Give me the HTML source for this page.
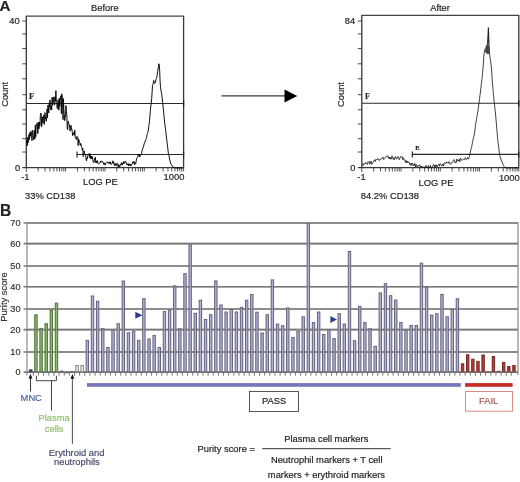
<!DOCTYPE html>
<html><head><meta charset="utf-8"><style>
html,body{margin:0;padding:0;background:#fff;width:520px;height:482px;overflow:hidden;}
svg{display:block;will-change:transform;}
text{font-family:"Liberation Sans",sans-serif;} text.sf{font-family:"Liberation Serif",serif;}
</style></head><body>
<svg fill="#222" width="520" height="482" viewBox="0 0 520 482">
<text x="-0.4" y="10.7" font-size="15.2" font-weight="bold" stroke="#222" stroke-width="0.18">A</text>
<path d="M26.3 167.6 V16.1 M183.6 16.1 V167.6" fill="none" stroke="#383838" stroke-width="1.3"/>
<path d="M25.8 16.1 H184.1" fill="none" stroke="#444" stroke-width="1.3"/>
<path d="M22.3 167.6 H183.6" stroke="#383838" stroke-width="1.3"/>
<path d=" M22.3 21.0 H26.3 M22.3 33.9 H26.3 M22.3 48.6 H26.3 M22.3 63.8 H26.3 M22.3 78.8 H26.3 M22.3 94.7 H26.3 M22.3 109.8 H26.3 M22.3 124.0 H26.3 M22.3 138.7 H26.3 M22.3 152.0 H26.3" stroke="#333" stroke-width="0.9"/>
<path d="M26.3 167.6 V171.9 M38.14 167.6 V171.4 M45.06 167.6 V171.4 M49.98 167.6 V171.4 M53.79 167.6 V171.4 M56.90 167.6 V171.4 M59.53 167.6 V171.4 M61.81 167.6 V171.4 M63.83 167.6 V171.4 M65.62 167.6 V171.4 M77.46 167.6 V171.4 M84.39 167.6 V171.4 M89.30 167.6 V171.4 M93.11 167.6 V171.4 M96.23 167.6 V171.4 M98.86 167.6 V171.4 M101.14 167.6 V171.4 M103.15 167.6 V171.4 M104.95 167.6 V171.4 M116.79 167.6 V171.4 M123.71 167.6 V171.4 M128.63 167.6 V171.4 M132.44 167.6 V171.4 M135.55 167.6 V171.4 M138.18 167.6 V171.4 M140.46 167.6 V171.4 M142.48 167.6 V171.4 M144.28 167.6 V171.4 M156.11 167.6 V171.4 M163.04 167.6 V171.4 M167.95 167.6 V171.4 M171.76 167.6 V171.4 M174.88 167.6 V171.4 M177.51 167.6 V171.4 M179.79 167.6 V171.4 M181.80 167.6 V171.4 M183.60 167.6 V171.4" stroke="#333" stroke-width="0.85"/>
<text x="91.1" y="11.3" font-size="9.35" stroke="#222" stroke-width="0.18">Before</text>
<text x="19.6" y="24.4" font-size="9.35" text-anchor="end" stroke="#222" stroke-width="0.18">40</text>
<text x="20.1" y="171" font-size="9.35" text-anchor="end" stroke="#222" stroke-width="0.18">0</text>
<text x="21.2" y="180.3" font-size="9.35" stroke="#222" stroke-width="0.18">-1</text>
<text x="163.6" y="179.9" font-size="9.35" stroke="#222" stroke-width="0.18">1000</text>
<text x="83" y="185.3" font-size="9.35" stroke="#222" stroke-width="0.18">LOG PE</text>
<text x="25" y="198.6" font-size="9.35" stroke="#222" stroke-width="0.18">33% CD138</text>
<text transform="translate(8.1 94.4) rotate(-90)" font-size="9.35" text-anchor="middle" stroke="#222" stroke-width="0.18">Count</text>
<text x="29" y="99.2" font-size="8.6" font-weight="bold" class="sf" stroke="#222" stroke-width="0.18">F</text>
<path d="M26.3 103.5 H183.6" stroke="#2a2a2a" stroke-width="1.1"/>
<path d="M183.6 100.5 V106.5" stroke="#1a1a1a" stroke-width="1.2"/>
<path d="M77 154.5 H183.6" stroke="#2a2a2a" stroke-width="1.1"/>
<path d="M77 151.5 V157.5 M183.6 151.5 V157.5" stroke="#1a1a1a" stroke-width="1.1"/>
<path d="M26.50 142.83 L26.92 140.33 L27.34 145.63 L27.76 137.32 L28.18 142.59 L28.60 138.41 L29.02 134.46 L29.44 139.44 L29.86 132.60 L30.28 136.21 L30.70 131.69 L31.12 131.34 L31.54 134.59 L31.96 140.52 L32.38 130.04 L32.80 130.54 L33.22 136.91 L33.64 140.09 L34.06 135.24 L34.48 130.57 L34.90 138.95 L35.32 125.15 L35.74 136.71 L36.16 126.63 L36.58 124.25 L37.00 123.32 L37.42 125.02 L37.84 133.64 L38.26 122.00 L38.68 128.75 L39.10 128.86 L39.52 122.08 L39.94 125.57 L40.36 115.35 L40.78 113.17 L41.20 113.60 L41.62 126.71 L42.04 119.62 L42.46 116.89 L42.88 123.20 L43.30 118.43 L43.72 115.02 L44.14 124.45 L44.56 122.38 L44.98 112.60 L45.40 118.94 L45.82 117.20 L46.24 121.27 L46.66 118.08 L47.08 109.09 L47.50 117.70 L47.92 105.22 L48.34 107.73 L48.76 112.98 L49.18 102.89 L49.60 107.10 L50.02 99.85 L50.44 109.55 L50.86 110.07 L51.28 106.00 L51.70 109.93 L52.12 97.27 L52.54 105.48 L52.96 102.77 L53.38 101.59 L53.80 96.89 L54.22 104.18 L54.64 105.22 L55.06 96.75 L55.48 101.16 L55.90 90.64 L56.32 102.51 L56.74 103.09 L57.16 108.70 L57.58 108.15 L58.00 99.84 L58.42 102.16 L58.84 110.19 L59.26 98.06 L59.68 106.54 L60.10 100.75 L60.52 98.34 L60.94 95.74 L61.36 113.71 L61.78 93.87 L62.20 96.53 L62.62 102.14 L63.04 119.64 L63.46 98.63 L63.88 109.74 L64.30 114.55 L64.72 120.61 L65.14 117.40 L65.56 116.96 L65.98 105.49 L66.40 111.78 L66.82 114.40 L67.24 128.21 L67.66 129.73 L68.08 121.17 L68.50 122.68 L68.92 123.87 L69.34 124.66 L69.76 128.22 L70.18 131.08 L70.60 127.03 L71.02 125.32 L71.44 129.21 L71.86 128.95 L72.28 132.23 L72.70 135.61 L73.12 133.92 L73.54 132.55 L73.96 134.20 L74.38 135.14 L74.80 130.22 L75.22 137.64 L75.64 137.75 L76.06 139.14 L76.48 139.51 L76.90 136.44 L77.32 137.37 L77.74 136.89 L78.16 145.50 L78.58 139.08 L79.00 139.95 L79.42 142.19 L79.84 142.55 L80.26 145.42 L80.68 143.50 L81.10 144.41 L81.52 146.94 L81.94 147.60 L82.36 150.25 L82.78 148.27 L83.20 156.54 L83.62 154.96 L84.04 150.79 L84.46 152.50 L84.88 154.18 L85.30 155.32 L85.72 155.30 L86.14 159.79 L86.56 160.90 L86.98 158.09 L87.40 158.63 L87.82 155.48 L88.24 154.63 L88.66 155.00 L89.08 153.60 L89.50 157.51 L89.92 153.64 L90.34 153.87 L90.76 159.02 L91.18 157.68 L91.60 156.04 L92.02 158.92 L92.44 156.74 L92.86 159.93 L93.28 162.50 L93.70 162.65 L94.12 162.23 L94.54 158.83 L94.96 159.03 L95.38 157.28 L95.80 162.69 L96.22 161.17 L96.64 163.07 L97.06 160.42 L97.48 160.70 L97.90 163.65 L98.32 163.99 L98.74 163.61 L99.16 163.42 L99.58 163.37 L100.00 163.09 L100.42 161.11 L100.84 162.42 L101.26 161.71 L101.68 160.95 L102.10 161.06 L102.52 161.80 L102.94 161.86 L103.36 163.74 L103.78 164.54 L104.20 162.81 L104.62 164.71 L105.04 164.89 L105.46 164.86 L105.88 162.75 L106.30 162.37 L106.72 162.42 L107.14 162.33 L107.56 161.88 L107.98 163.13 L108.40 163.42 L108.82 162.81 L109.24 161.75 L109.66 163.14 L110.08 164.08 L110.50 162.07 L110.92 164.07 L111.34 164.41 L111.76 163.76 L112.18 163.35 L112.60 161.86 L113.02 160.79 L113.44 163.65 L113.86 162.41 L114.28 164.87 L114.70 165.74 L115.12 163.71 L115.54 163.77 L115.96 165.80 L116.38 165.27 L116.80 163.20 L117.22 163.38 L117.64 163.81 L118.06 166.81 L118.48 166.94 L118.90 164.60 L119.32 166.75 L119.74 166.82 L120.16 165.68 L120.58 164.01 L121.00 164.76 L121.42 162.91 L121.84 162.38 L122.26 165.16 L122.68 163.84 L123.10 162.89 L123.52 163.67 L123.94 161.43 L124.36 163.29 L124.78 163.35 L125.20 161.25 L125.62 161.55 L126.04 162.36 L126.46 162.91 L126.88 165.08 L127.30 164.34 L127.72 164.64 L128.14 163.59 L128.56 166.06 L128.98 163.78 L129.40 164.12 L129.82 164.86 L130.24 165.78 L130.66 163.96 L131.08 165.81 L131.50 164.36 L131.92 164.30 L132.34 163.99 L132.76 161.77 L133.18 162.82 L133.60 161.58 L134.02 161.30 L134.44 164.71 L134.86 162.52 L135.28 163.90 L135.70 163.97 L136.12 161.66 L136.54 158.43 L136.96 158.12 L137.38 157.42 L137.80 157.32 L138.22 154.26 L138.64 155.43 L139.06 154.45 L139.48 154.80 L139.90 156.91 L140.32 155.38 L140.74 154.72 L141.16 154.40 L141.58 153.73 L142.00 150.71 L142.42 150.11 L142.84 148.27 L143.26 146.90 L143.68 146.03 L144.10 143.90 L144.52 143.08 L144.94 141.56 L145.36 141.48 L145.78 139.81 L146.20 138.89 L146.62 137.75 L147.04 134.73 L147.46 133.55 L147.88 132.23 L148.30 130.07 L148.72 126.50 L149.14 124.46 L149.56 120.63 L149.98 115.10 L150.40 110.52 L150.82 105.90 L151.24 103.07 L151.66 98.43 L152.08 92.73 L152.50 85.23 L152.92 84.65 L153.34 82.63 L153.76 80.44 L154.18 82.66 L154.60 83.38 L155.02 82.27 L155.44 82.47 L155.86 79.81 L156.28 78.66 L156.70 77.92 L157.12 75.44 L157.54 71.69 L157.96 69.96 L158.38 67.22 L158.80 63.73 L159.22 64.53 L159.64 69.73 L160.06 80.45 L160.48 86.65 L160.90 89.84 L161.32 92.26 L161.74 94.57 L162.16 97.92 L162.58 102.20 L163.00 106.03 L163.42 109.75 L163.84 114.61 L164.26 118.61 L164.68 122.83 L165.10 125.92 L165.52 129.50 L165.94 132.83 L166.36 136.95 L166.78 139.91 L167.20 143.20 L167.62 146.80 L168.04 150.64 L168.46 153.97 L168.88 155.37 L169.30 157.08 L169.72 159.53 L170.14 161.06 L170.56 162.95 L170.98 164.17 L171.40 164.68 L171.82 165.67 L172.24 165.84 L172.66 166.08 L173.08 167.13 L173.50 167.41 L173.92 167.74 L174.34 167.45 L174.76 167.86 L175.18 167.72 L175.60 167.95 L176.02 168.00 L176.44 168.00 L176.86 168.00 L177.28 168.00 L177.70 168.00 L178.12 168.00 L178.54 168.00 L178.96 168.00 L179.38 168.00 L179.80 168.00 L180.22 168.00 L180.64 168.00 L181.06 168.00 L181.48 168.00 L181.90 168.00 L182.32 168.00 L182.74 168.00" fill="none" stroke="#000" stroke-width="0.95" stroke-linejoin="round"/>
<path d="M221.5 95.9 H286" stroke="#3a3a3a" stroke-width="1.15"/>
<path d="M284.5 89.6 L297.2 96 L284.5 102.6 Z" fill="#000"/>
<path d="M361.8 167.7 V15.3 M518.8 15.3 V167.7" fill="none" stroke="#383838" stroke-width="1.3"/>
<path d="M361.3 15.3 H519.3" fill="none" stroke="#444" stroke-width="1.3"/>
<path d="M357.8 167.7 H518.8" stroke="#383838" stroke-width="1.3"/>
<path d=" M357.8 21.0 H361.8 M357.8 33.9 H361.8 M357.8 48.6 H361.8 M357.8 63.8 H361.8 M357.8 78.8 H361.8 M357.8 94.7 H361.8 M357.8 109.8 H361.8 M357.8 124.0 H361.8 M357.8 138.7 H361.8 M357.8 152.0 H361.8" stroke="#333" stroke-width="0.9"/>
<path d="M361.8 167.7 V172.0 M373.62 167.7 V171.5 M380.53 167.7 V171.5 M385.43 167.7 V171.5 M389.23 167.7 V171.5 M392.34 167.7 V171.5 M394.97 167.7 V171.5 M397.25 167.7 V171.5 M399.25 167.7 V171.5 M401.05 167.7 V171.5 M412.87 167.7 V171.5 M419.78 167.7 V171.5 M424.68 167.7 V171.5 M428.48 167.7 V171.5 M431.59 167.7 V171.5 M434.22 167.7 V171.5 M436.50 167.7 V171.5 M438.50 167.7 V171.5 M440.30 167.7 V171.5 M452.12 167.7 V171.5 M459.03 167.7 V171.5 M463.93 167.7 V171.5 M467.73 167.7 V171.5 M470.84 167.7 V171.5 M473.47 167.7 V171.5 M475.75 167.7 V171.5 M477.75 167.7 V171.5 M479.55 167.7 V171.5 M491.37 167.7 V171.5 M498.28 167.7 V171.5 M503.18 167.7 V171.5 M506.98 167.7 V171.5 M510.09 167.7 V171.5 M512.72 167.7 V171.5 M515.00 167.7 V171.5 M517.00 167.7 V171.5 M518.80 167.7 V171.5" stroke="#333" stroke-width="0.85"/>
<text x="430.2" y="11.4" font-size="9.35" stroke="#222" stroke-width="0.18">After</text>
<text x="355.2" y="24.4" font-size="9.35" text-anchor="end" stroke="#222" stroke-width="0.18">84</text>
<text x="355.4" y="171" font-size="9.35" text-anchor="end" stroke="#222" stroke-width="0.18">0</text>
<text x="357.3" y="180.2" font-size="9.35" stroke="#222" stroke-width="0.18">-1</text>
<text x="498.9" y="180.6" font-size="9.35" stroke="#222" stroke-width="0.18">1000</text>
<text x="418.6" y="185.6" font-size="9.35" stroke="#222" stroke-width="0.18">LOG PE</text>
<text x="360.8" y="198.9" font-size="9.35" stroke="#222" stroke-width="0.18">84.2% CD138</text>
<text transform="translate(343.6 94.5) rotate(-90)" font-size="9.35" text-anchor="middle" stroke="#222" stroke-width="0.18">Count</text>
<text x="365" y="98.8" font-size="8" font-weight="bold" class="sf" stroke="#222" stroke-width="0.18">F</text>
<path d="M361.8 103.2 H518.8" stroke="#2a2a2a" stroke-width="1.1"/>
<path d="M518.8 100.2 V106.2" stroke="#1a1a1a" stroke-width="1.2"/>
<text x="415.3" y="150.1" font-size="6.6" font-weight="bold" class="sf" stroke="#222" stroke-width="0.18">E</text>
<path d="M412.3 154.4 H518.8" stroke="#2a2a2a" stroke-width="1.1"/>
<path d="M412.3 151.4 V157.4 M518.8 151.4 V157.4" stroke="#1a1a1a" stroke-width="1.1"/>
<path d="M362.00 163.82 L362.60 164.15 L363.20 165.46 L363.80 163.64 L364.40 163.73 L365.00 163.96 L365.60 162.35 L366.20 163.52 L366.80 163.89 L367.40 164.44 L368.00 161.71 L368.60 162.43 L369.20 161.54 L369.80 164.20 L370.40 163.62 L371.00 160.96 L371.60 164.35 L372.20 164.11 L372.80 162.74 L373.40 162.42 L374.00 160.50 L374.60 159.78 L375.20 161.51 L375.80 159.43 L376.40 159.62 L377.00 159.52 L377.60 158.41 L378.20 159.76 L378.80 159.37 L379.40 160.60 L380.00 159.07 L380.60 159.29 L381.20 158.52 L381.80 158.90 L382.40 157.88 L383.00 156.96 L383.60 159.45 L384.20 159.20 L384.80 158.37 L385.40 157.83 L386.00 156.40 L386.60 156.13 L387.20 156.42 L387.80 155.65 L388.40 158.35 L389.00 157.02 L389.60 158.78 L390.20 157.09 L390.80 159.32 L391.40 158.96 L392.00 155.80 L392.60 156.66 L393.20 159.38 L393.80 157.77 L394.40 159.77 L395.00 157.61 L395.60 156.38 L396.20 158.49 L396.80 159.06 L397.40 157.13 L398.00 156.43 L398.60 157.36 L399.20 159.76 L399.80 158.98 L400.40 156.62 L401.00 157.20 L401.60 156.75 L402.20 156.69 L402.80 159.60 L403.40 157.74 L404.00 159.89 L404.60 160.17 L405.20 159.89 L405.80 162.65 L406.40 160.75 L407.00 162.92 L407.60 161.14 L408.20 162.52 L408.80 161.96 L409.40 162.40 L410.00 165.29 L410.60 164.83 L411.20 163.12 L411.80 165.50 L412.40 163.12 L413.00 164.00 L413.60 165.93 L414.20 165.30 L414.80 163.42 L415.40 167.06 L416.00 164.41 L416.60 164.88 L417.20 167.14 L417.80 165.75 L418.40 165.75 L419.00 164.95 L419.60 165.06 L420.20 166.97 L420.80 165.72 L421.40 167.13 L422.00 166.30 L422.60 166.65 L423.20 168.00 L423.80 166.85 L424.40 167.24 L425.00 168.00 L425.60 165.75 L426.20 165.60 L426.80 168.00 L427.40 168.00 L428.00 165.83 L428.60 165.56 L429.20 167.61 L429.80 168.00 L430.40 165.46 L431.00 168.00 L431.60 167.98 L432.20 166.86 L432.80 166.07 L433.40 164.77 L434.00 164.42 L434.60 167.84 L435.20 164.99 L435.80 166.66 L436.40 164.86 L437.00 166.92 L437.60 165.96 L438.20 164.71 L438.80 164.16 L439.40 166.13 L440.00 163.56 L440.60 164.05 L441.20 165.19 L441.80 166.18 L442.40 165.15 L443.00 163.76 L443.60 166.07 L444.20 163.24 L444.80 162.40 L445.40 163.20 L446.00 163.69 L446.60 162.05 L447.20 162.31 L447.80 162.86 L448.40 163.45 L449.00 161.60 L449.60 162.30 L450.20 164.13 L450.80 164.30 L451.40 162.90 L452.00 162.87 L452.60 162.29 L453.20 160.44 L453.80 159.87 L454.40 159.64 L455.00 162.86 L455.60 161.88 L456.20 162.70 L456.80 158.94 L457.40 161.10 L458.00 160.33 L458.60 161.10 L459.20 159.35 L459.80 161.76 L460.40 158.01 L461.00 159.54 L461.60 160.01 L462.20 160.37 L462.80 159.49 L463.40 159.21 L464.00 159.45 L464.60 159.81 L465.20 157.57 L465.80 158.74 L466.40 159.46 L467.00 159.24 L467.60 157.42 L468.20 158.74 L468.80 158.91 L469.40 156.38 L470.00 154.07 L470.60 151.05 L471.20 148.49 L471.80 146.23 L472.40 142.83 L473.00 139.68 L473.60 137.58 L474.20 135.19 L474.80 131.30 L475.40 125.81 L476.00 122.26 L476.60 118.70 L477.20 115.16 L477.80 111.93 L478.40 107.45 L479.00 103.25 L479.60 98.22 L480.20 93.96 L480.80 88.99 L481.40 83.64 L482.00 78.72 L482.60 72.75 L483.20 66.32 L483.80 56.25 L484.40 52.11 L485.00 48.94 L485.60 47.88 L486.20 46.92 L486.80 45.07 L487.40 43.87 L488.00 38.32 L488.60 31.29 L489.20 46.93 L489.80 56.14 L490.40 59.56 L491.00 64.10 L491.60 70.07 L492.20 79.96 L492.80 86.85 L493.40 93.58 L494.00 100.23 L494.60 105.33 L495.20 110.85 L495.80 116.95 L496.40 123.95 L497.00 131.28 L497.60 138.60 L498.20 143.41 L498.80 148.13 L499.40 153.07 L500.00 156.43 L500.60 158.04 L501.20 159.89 L501.80 161.47 L502.40 163.05 L503.00 164.48 L503.60 165.92 L504.20 166.71 L504.80 167.03 L505.40 167.77 L506.00 168.00 L506.60 167.97 L507.20 167.74 L507.80 167.72 L508.40 168.00 L509.00 167.72 L509.60 168.00 L510.20 168.00 L510.80 167.89 L511.40 168.00 L512.00 167.71 L512.60 167.78 L513.20 167.97 L513.80 167.71 L514.40 168.00 L515.00 167.84 L515.60 167.78 L516.20 167.73 L516.80 168.00 L517.40 167.97 L518.00 168.00 L518.60 168.00" fill="none" stroke="#111" stroke-width="0.8" stroke-linejoin="round"/>
<path d="M484.8 51.5 L486.2 46.8 L487.9 43.6 L489.2 45.8 L489.6 50 L489.4 54 L487 54 Z" fill="#444"/>
<path d="M488.1 44 L488.4 27.6" stroke="#222" stroke-width="1.3"/>
<text x="0" y="216.3" font-size="15.6" font-weight="bold" stroke="#222" stroke-width="0.18">B</text>
<path d="M23.5 223 H518" stroke="#7a7a7a" stroke-width="1.6"/>
<text x="20.6" y="226.3" font-size="9.2" text-anchor="end" fill="#333" stroke="#333" stroke-width="0.18">70</text>
<path d="M23.5 243.6 H518" stroke="#7a7a7a" stroke-width="1.6"/>
<text x="20.6" y="246.9" font-size="9.2" text-anchor="end" fill="#333" stroke="#333" stroke-width="0.18">60</text>
<path d="M23.5 266 H518" stroke="#7a7a7a" stroke-width="1.6"/>
<text x="20.6" y="269.3" font-size="9.2" text-anchor="end" fill="#333" stroke="#333" stroke-width="0.18">50</text>
<path d="M23.5 286.7 H518" stroke="#7a7a7a" stroke-width="1.6"/>
<text x="20.6" y="290.0" font-size="9.2" text-anchor="end" fill="#333" stroke="#333" stroke-width="0.18">40</text>
<path d="M23.5 309 H518" stroke="#7a7a7a" stroke-width="1.6"/>
<text x="20.6" y="312.3" font-size="9.2" text-anchor="end" fill="#333" stroke="#333" stroke-width="0.18">30</text>
<path d="M23.5 329.6 H518" stroke="#7a7a7a" stroke-width="1.6"/>
<text x="20.6" y="332.90000000000003" font-size="9.2" text-anchor="end" fill="#333" stroke="#333" stroke-width="0.18">20</text>
<path d="M23.5 352 H518" stroke="#7a7a7a" stroke-width="1.6"/>
<text x="20.6" y="355.3" font-size="9.2" text-anchor="end" fill="#333" stroke="#333" stroke-width="0.18">10</text>
<path d="M23.5 372.1 H518" stroke="#7a7a7a" stroke-width="1.6"/>
<text x="20.6" y="375.40000000000003" font-size="9.2" text-anchor="end" fill="#333" stroke="#333" stroke-width="0.18">0</text>
<path d="M27 222.5 V375.5" stroke="#8a8a8a" stroke-width="1.2"/>
<path d="M518 222.5 V375" stroke="#8a8a8a" stroke-width="1.2"/>
<text transform="translate(7.4 297) rotate(-90)" font-size="9.35" text-anchor="middle" fill="#333" stroke="#333" stroke-width="0.18">Purity score</text>
<path d=" M33.37 372 V375.7 M38.51 372 V375.7 M43.65 372 V375.7 M48.79 372 V375.7 M53.93 372 V375.7 M59.07 372 V375.7 M64.21 372 V375.7 M69.35 372 V375.7 M74.49 372 V375.7 M79.63 372 V375.7 M84.77 372 V375.7 M89.91 372 V375.7 M95.05 372 V375.7 M100.19 372 V375.7 M105.33 372 V375.7 M110.47 372 V375.7 M115.61 372 V375.7 M120.75 372 V375.7 M125.89 372 V375.7 M131.03 372 V375.7 M136.17 372 V375.7 M141.31 372 V375.7 M146.45 372 V375.7 M151.59 372 V375.7 M156.73 372 V375.7 M161.87 372 V375.7 M167.01 372 V375.7 M172.15 372 V375.7 M177.29 372 V375.7 M182.43 372 V375.7 M187.57 372 V375.7 M192.71 372 V375.7 M197.85 372 V375.7 M202.99 372 V375.7 M208.13 372 V375.7 M213.27 372 V375.7 M218.41 372 V375.7 M223.55 372 V375.7 M228.69 372 V375.7 M233.83 372 V375.7 M238.97 372 V375.7 M244.11 372 V375.7 M249.25 372 V375.7 M254.39 372 V375.7 M259.53 372 V375.7 M264.67 372 V375.7 M269.81 372 V375.7 M274.95 372 V375.7 M280.09 372 V375.7 M285.23 372 V375.7 M290.37 372 V375.7 M295.51 372 V375.7 M300.65 372 V375.7 M305.79 372 V375.7 M310.93 372 V375.7 M316.07 372 V375.7 M321.21 372 V375.7 M326.35 372 V375.7 M331.49 372 V375.7 M336.63 372 V375.7 M341.77 372 V375.7 M346.91 372 V375.7 M352.05 372 V375.7 M357.19 372 V375.7 M362.33 372 V375.7 M367.47 372 V375.7 M372.61 372 V375.7 M377.75 372 V375.7 M382.89 372 V375.7 M388.03 372 V375.7 M393.17 372 V375.7 M398.31 372 V375.7 M403.45 372 V375.7 M408.59 372 V375.7 M413.73 372 V375.7 M418.87 372 V375.7 M424.01 372 V375.7 M429.15 372 V375.7 M434.29 372 V375.7 M439.43 372 V375.7 M444.57 372 V375.7 M449.71 372 V375.7 M454.85 372 V375.7 M459.99 372 V375.7 M465.13 372 V375.7 M470.27 372 V375.7 M475.41 372 V375.7 M480.55 372 V375.7 M485.69 372 V375.7 M490.83 372 V375.7 M495.97 372 V375.7 M501.11 372 V375.7 M506.25 372 V375.7 M511.39 372 V375.7" stroke="#666" stroke-width="0.9"/>
<rect x="29.60" y="369.90" width="2.40" height="2.10" fill="#34448c" stroke="#1e2a60" stroke-width="1"/>
<rect x="34.74" y="314.80" width="2.40" height="57.20" fill="#90b874" stroke="#4a7232" stroke-width="1"/>
<rect x="39.88" y="328.40" width="2.40" height="43.60" fill="#90b874" stroke="#4a7232" stroke-width="1"/>
<rect x="45.02" y="323.70" width="2.40" height="48.30" fill="#90b874" stroke="#4a7232" stroke-width="1"/>
<rect x="50.16" y="310.30" width="2.40" height="61.70" fill="#90b874" stroke="#4a7232" stroke-width="1"/>
<rect x="55.30" y="303.20" width="2.40" height="68.80" fill="#90b874" stroke="#4a7232" stroke-width="1"/>
<rect x="60.44" y="371.20" width="2.40" height="0.80" fill="#ffffff" stroke="#5a4a4a" stroke-width="1"/>
<rect x="65.58" y="372.50" width="2.40" height="0.30" fill="#ffffff" stroke="#5a4a4a" stroke-width="1"/>
<rect x="70.72" y="371.50" width="2.40" height="0.50" fill="#ffffff" stroke="#5a4a4a" stroke-width="1"/>
<rect x="75.86" y="365.60" width="2.40" height="6.40" fill="#ffffff" stroke="#7a7a7a" stroke-width="1"/>
<rect x="81.00" y="365.60" width="2.40" height="6.40" fill="#ffffff" stroke="#7a7a7a" stroke-width="1"/>
<rect x="86.14" y="340.30" width="2.40" height="31.70" fill="#b2b2d2" stroke="#62627e" stroke-width="1"/>
<rect x="91.28" y="296.00" width="2.40" height="76.00" fill="#b2b2d2" stroke="#62627e" stroke-width="1"/>
<rect x="96.42" y="301.20" width="2.40" height="70.80" fill="#b2b2d2" stroke="#62627e" stroke-width="1"/>
<rect x="101.56" y="328.60" width="2.40" height="43.40" fill="#b2b2d2" stroke="#62627e" stroke-width="1"/>
<rect x="106.70" y="347.50" width="2.40" height="24.50" fill="#b2b2d2" stroke="#62627e" stroke-width="1"/>
<rect x="111.84" y="329.90" width="2.40" height="42.10" fill="#b2b2d2" stroke="#62627e" stroke-width="1"/>
<rect x="116.98" y="323.70" width="2.40" height="48.30" fill="#b2b2d2" stroke="#62627e" stroke-width="1"/>
<rect x="122.12" y="281.00" width="2.40" height="91.00" fill="#b2b2d2" stroke="#62627e" stroke-width="1"/>
<rect x="127.26" y="332.80" width="2.40" height="39.20" fill="#b2b2d2" stroke="#62627e" stroke-width="1"/>
<rect x="132.40" y="331.30" width="2.40" height="40.70" fill="#b2b2d2" stroke="#62627e" stroke-width="1"/>
<rect x="137.54" y="340.30" width="2.40" height="31.70" fill="#b2b2d2" stroke="#62627e" stroke-width="1"/>
<rect x="142.68" y="298.70" width="2.40" height="73.30" fill="#b2b2d2" stroke="#62627e" stroke-width="1"/>
<rect x="147.82" y="339.00" width="2.40" height="33.00" fill="#b2b2d2" stroke="#62627e" stroke-width="1"/>
<rect x="152.96" y="335.50" width="2.40" height="36.50" fill="#b2b2d2" stroke="#62627e" stroke-width="1"/>
<rect x="158.10" y="347.50" width="2.40" height="24.50" fill="#b2b2d2" stroke="#62627e" stroke-width="1"/>
<rect x="163.24" y="311.60" width="2.40" height="60.40" fill="#b2b2d2" stroke="#62627e" stroke-width="1"/>
<rect x="168.38" y="310.00" width="2.40" height="62.00" fill="#b2b2d2" stroke="#62627e" stroke-width="1"/>
<rect x="173.52" y="285.80" width="2.40" height="86.20" fill="#b2b2d2" stroke="#62627e" stroke-width="1"/>
<rect x="178.66" y="328.80" width="2.40" height="43.20" fill="#b2b2d2" stroke="#62627e" stroke-width="1"/>
<rect x="183.80" y="273.60" width="2.40" height="98.40" fill="#b2b2d2" stroke="#62627e" stroke-width="1"/>
<rect x="188.94" y="244.90" width="2.40" height="127.10" fill="#b2b2d2" stroke="#62627e" stroke-width="1"/>
<rect x="194.08" y="313.30" width="2.40" height="58.70" fill="#b2b2d2" stroke="#62627e" stroke-width="1"/>
<rect x="199.22" y="300.20" width="2.40" height="71.80" fill="#b2b2d2" stroke="#62627e" stroke-width="1"/>
<rect x="204.36" y="319.50" width="2.40" height="52.50" fill="#b2b2d2" stroke="#62627e" stroke-width="1"/>
<rect x="209.50" y="314.70" width="2.40" height="57.30" fill="#b2b2d2" stroke="#62627e" stroke-width="1"/>
<rect x="214.64" y="280.90" width="2.40" height="91.10" fill="#b2b2d2" stroke="#62627e" stroke-width="1"/>
<rect x="219.78" y="305.00" width="2.40" height="67.00" fill="#b2b2d2" stroke="#62627e" stroke-width="1"/>
<rect x="224.92" y="312.00" width="2.40" height="60.00" fill="#b2b2d2" stroke="#62627e" stroke-width="1"/>
<rect x="230.06" y="309.50" width="2.40" height="62.50" fill="#b2b2d2" stroke="#62627e" stroke-width="1"/>
<rect x="235.20" y="312.00" width="2.40" height="60.00" fill="#b2b2d2" stroke="#62627e" stroke-width="1"/>
<rect x="240.34" y="307.50" width="2.40" height="64.50" fill="#b2b2d2" stroke="#62627e" stroke-width="1"/>
<rect x="245.48" y="300.20" width="2.40" height="71.80" fill="#b2b2d2" stroke="#62627e" stroke-width="1"/>
<rect x="250.62" y="294.40" width="2.40" height="77.60" fill="#b2b2d2" stroke="#62627e" stroke-width="1"/>
<rect x="255.76" y="312.20" width="2.40" height="59.80" fill="#b2b2d2" stroke="#62627e" stroke-width="1"/>
<rect x="260.90" y="333.00" width="2.40" height="39.00" fill="#b2b2d2" stroke="#62627e" stroke-width="1"/>
<rect x="266.04" y="314.70" width="2.40" height="57.30" fill="#b2b2d2" stroke="#62627e" stroke-width="1"/>
<rect x="271.18" y="279.90" width="2.40" height="92.10" fill="#b2b2d2" stroke="#62627e" stroke-width="1"/>
<rect x="276.32" y="324.10" width="2.40" height="47.90" fill="#b2b2d2" stroke="#62627e" stroke-width="1"/>
<rect x="281.46" y="325.70" width="2.40" height="46.30" fill="#b2b2d2" stroke="#62627e" stroke-width="1"/>
<rect x="286.60" y="307.90" width="2.40" height="64.10" fill="#b2b2d2" stroke="#62627e" stroke-width="1"/>
<rect x="291.74" y="337.50" width="2.40" height="34.50" fill="#b2b2d2" stroke="#62627e" stroke-width="1"/>
<rect x="296.88" y="331.30" width="2.40" height="40.70" fill="#b2b2d2" stroke="#62627e" stroke-width="1"/>
<rect x="302.02" y="316.80" width="2.40" height="55.20" fill="#b2b2d2" stroke="#62627e" stroke-width="1"/>
<rect x="307.16" y="223.60" width="2.40" height="148.40" fill="#b2b2d2" stroke="#62627e" stroke-width="1"/>
<rect x="312.30" y="322.60" width="2.40" height="49.40" fill="#b2b2d2" stroke="#62627e" stroke-width="1"/>
<rect x="317.44" y="312.00" width="2.40" height="60.00" fill="#b2b2d2" stroke="#62627e" stroke-width="1"/>
<rect x="322.58" y="334.50" width="2.40" height="37.50" fill="#b2b2d2" stroke="#62627e" stroke-width="1"/>
<rect x="327.72" y="329.90" width="2.40" height="42.10" fill="#b2b2d2" stroke="#62627e" stroke-width="1"/>
<rect x="332.86" y="338.60" width="2.40" height="33.40" fill="#b2b2d2" stroke="#62627e" stroke-width="1"/>
<rect x="338.00" y="313.70" width="2.40" height="58.30" fill="#b2b2d2" stroke="#62627e" stroke-width="1"/>
<rect x="343.14" y="324.10" width="2.40" height="47.90" fill="#b2b2d2" stroke="#62627e" stroke-width="1"/>
<rect x="348.28" y="251.50" width="2.40" height="120.50" fill="#b2b2d2" stroke="#62627e" stroke-width="1"/>
<rect x="353.42" y="340.70" width="2.40" height="31.30" fill="#b2b2d2" stroke="#62627e" stroke-width="1"/>
<rect x="358.56" y="306.40" width="2.40" height="65.60" fill="#b2b2d2" stroke="#62627e" stroke-width="1"/>
<rect x="363.70" y="322.60" width="2.40" height="49.40" fill="#b2b2d2" stroke="#62627e" stroke-width="1"/>
<rect x="368.84" y="328.70" width="2.40" height="43.30" fill="#b2b2d2" stroke="#62627e" stroke-width="1"/>
<rect x="373.98" y="346.30" width="2.40" height="25.70" fill="#b2b2d2" stroke="#62627e" stroke-width="1"/>
<rect x="379.12" y="292.90" width="2.40" height="79.10" fill="#b2b2d2" stroke="#62627e" stroke-width="1"/>
<rect x="384.26" y="283.70" width="2.40" height="88.30" fill="#b2b2d2" stroke="#62627e" stroke-width="1"/>
<rect x="389.40" y="295.70" width="2.40" height="76.30" fill="#b2b2d2" stroke="#62627e" stroke-width="1"/>
<rect x="394.54" y="300.00" width="2.40" height="72.00" fill="#b2b2d2" stroke="#62627e" stroke-width="1"/>
<rect x="399.68" y="322.60" width="2.40" height="49.40" fill="#b2b2d2" stroke="#62627e" stroke-width="1"/>
<rect x="404.82" y="329.90" width="2.40" height="42.10" fill="#b2b2d2" stroke="#62627e" stroke-width="1"/>
<rect x="409.96" y="325.50" width="2.40" height="46.50" fill="#b2b2d2" stroke="#62627e" stroke-width="1"/>
<rect x="415.10" y="325.50" width="2.40" height="46.50" fill="#b2b2d2" stroke="#62627e" stroke-width="1"/>
<rect x="420.24" y="263.20" width="2.40" height="108.80" fill="#b2b2d2" stroke="#62627e" stroke-width="1"/>
<rect x="425.38" y="287.10" width="2.40" height="84.90" fill="#b2b2d2" stroke="#62627e" stroke-width="1"/>
<rect x="430.52" y="315.10" width="2.40" height="56.90" fill="#b2b2d2" stroke="#62627e" stroke-width="1"/>
<rect x="435.66" y="313.70" width="2.40" height="58.30" fill="#b2b2d2" stroke="#62627e" stroke-width="1"/>
<rect x="440.80" y="294.40" width="2.40" height="77.60" fill="#b2b2d2" stroke="#62627e" stroke-width="1"/>
<rect x="445.94" y="316.80" width="2.40" height="55.20" fill="#b2b2d2" stroke="#62627e" stroke-width="1"/>
<rect x="451.08" y="309.50" width="2.40" height="62.50" fill="#b2b2d2" stroke="#62627e" stroke-width="1"/>
<rect x="456.22" y="298.80" width="2.40" height="73.20" fill="#b2b2d2" stroke="#62627e" stroke-width="1"/>
<rect x="461.36" y="363.80" width="2.40" height="8.20" fill="#b23c38" stroke="#7a2826" stroke-width="1"/>
<rect x="466.50" y="354.80" width="2.40" height="17.20" fill="#b23c38" stroke="#7a2826" stroke-width="1"/>
<rect x="471.64" y="359.20" width="2.40" height="12.80" fill="#b23c38" stroke="#7a2826" stroke-width="1"/>
<rect x="476.78" y="361.40" width="2.40" height="10.60" fill="#b23c38" stroke="#7a2826" stroke-width="1"/>
<rect x="481.92" y="355.00" width="2.40" height="17.00" fill="#b23c38" stroke="#7a2826" stroke-width="1"/>
<rect x="487.06" y="372.00" width="2.40" height="0.30" fill="#b23c38" stroke="#7a2826" stroke-width="1"/>
<rect x="492.20" y="356.50" width="2.40" height="15.50" fill="#b23c38" stroke="#7a2826" stroke-width="1"/>
<rect x="497.34" y="371.30" width="2.40" height="0.70" fill="#b23c38" stroke="#7a2826" stroke-width="1"/>
<rect x="502.48" y="362.40" width="2.40" height="9.60" fill="#b23c38" stroke="#7a2826" stroke-width="1"/>
<rect x="507.62" y="366.50" width="2.40" height="5.50" fill="#b23c38" stroke="#7a2826" stroke-width="1"/>
<rect x="512.76" y="365.50" width="2.40" height="6.50" fill="#b23c38" stroke="#7a2826" stroke-width="1"/>
<path d="M27 223 H518" stroke="#7a7a7a" stroke-width="1.6" opacity="0.55"/>
<path d="M27 243.6 H518" stroke="#7a7a7a" stroke-width="1.6" opacity="0.55"/>
<path d="M27 266 H518" stroke="#7a7a7a" stroke-width="1.6" opacity="0.55"/>
<path d="M27 286.7 H518" stroke="#7a7a7a" stroke-width="1.6" opacity="0.55"/>
<path d="M27 309 H518" stroke="#7a7a7a" stroke-width="1.6" opacity="0.55"/>
<path d="M27 329.6 H518" stroke="#7a7a7a" stroke-width="1.6" opacity="0.55"/>
<path d="M27 352 H518" stroke="#7a7a7a" stroke-width="1.6" opacity="0.55"/>
<path d="M27 372.1 H518" stroke="#7a7a7a" stroke-width="1.6" opacity="0.55"/>
<path d="M135.3 311.8 L142.4 315.2 L135.3 318.7 Z" fill="#2b3c8c"/>
<path d="M330.4 316.1 L336.9 319.6 L330.4 323.1 Z" fill="#2b3c8c"/>
<path d="M30.5 377 V391.5" stroke="#333" stroke-width="1"/>
<path d="M28.6 378.5 L30.5 373.8 L32.4 378.5 Z" fill="#111"/>
<text x="20.6" y="401.2" font-size="9.35" fill="#4a64a6" stroke="#4a64a6" stroke-width="0.18">MNC</text>
<path d="M36.4 375.8 V380.7 H56.4 V375.8 M51.5 380.7 V410.6" fill="none" stroke="#444" stroke-width="1"/>
<text x="38.5" y="421.3" font-size="9.35" fill="#8fbf6a" stroke="#8fbf6a" stroke-width="0.18">Plasma</text>
<text x="44.8" y="432.2" font-size="9.35" fill="#8fbf6a" stroke="#8fbf6a" stroke-width="0.18">cells</text>
<path d="M72.4 377 V444" stroke="#5a5a5a" stroke-width="1.05"/>
<path d="M70.5 378.7 L72.4 374 L74.3 378.7 Z" fill="#111"/>
<text x="48.8" y="455.6" font-size="9.35" fill="#454a70" stroke="#454a70" stroke-width="0.18">Erythroid and</text>
<text x="54" y="465.3" font-size="9.35" fill="#454a70" stroke="#454a70" stroke-width="0.18">neutrophils</text>
<rect x="87" y="383.1" width="373.8" height="3.7" fill="#7477b8"/>
<rect x="465.1" y="383.1" width="47.5" height="3.7" fill="#c42c24"/>
<rect x="249.5" y="391.5" width="49" height="20" fill="none" stroke="#555" stroke-width="1"/>
<text x="274" y="404.4" font-size="9.35" text-anchor="middle" fill="#222" stroke="#222" stroke-width="0.18">PASS</text>
<rect x="465.5" y="391.5" width="47" height="19.7" fill="none" stroke="#d88a86" stroke-width="1"/>
<text x="488.6" y="404.3" font-size="9.35" text-anchor="middle" fill="#aa5450" stroke="#aa5450" stroke-width="0.18">FAIL</text>
<text x="197.5" y="451.9" font-size="9.35" fill="#222" stroke="#222" stroke-width="0.18">Purity score =</text>
<path d="M262.2 448.7 H390.7" stroke="#333" stroke-width="1"/>
<text x="326.3" y="441.8" font-size="9.35" text-anchor="middle" fill="#222" stroke="#222" stroke-width="0.18">Plasma cell markers</text>
<text x="326.7" y="462.8" font-size="9.35" text-anchor="middle" fill="#222" stroke="#222" stroke-width="0.18">Neutrophil markers + T cell</text>
<text x="326.4" y="477.6" font-size="9.35" text-anchor="middle" fill="#222" stroke="#222" stroke-width="0.18">markers + erythroid markers</text>
</svg>
</body></html>
